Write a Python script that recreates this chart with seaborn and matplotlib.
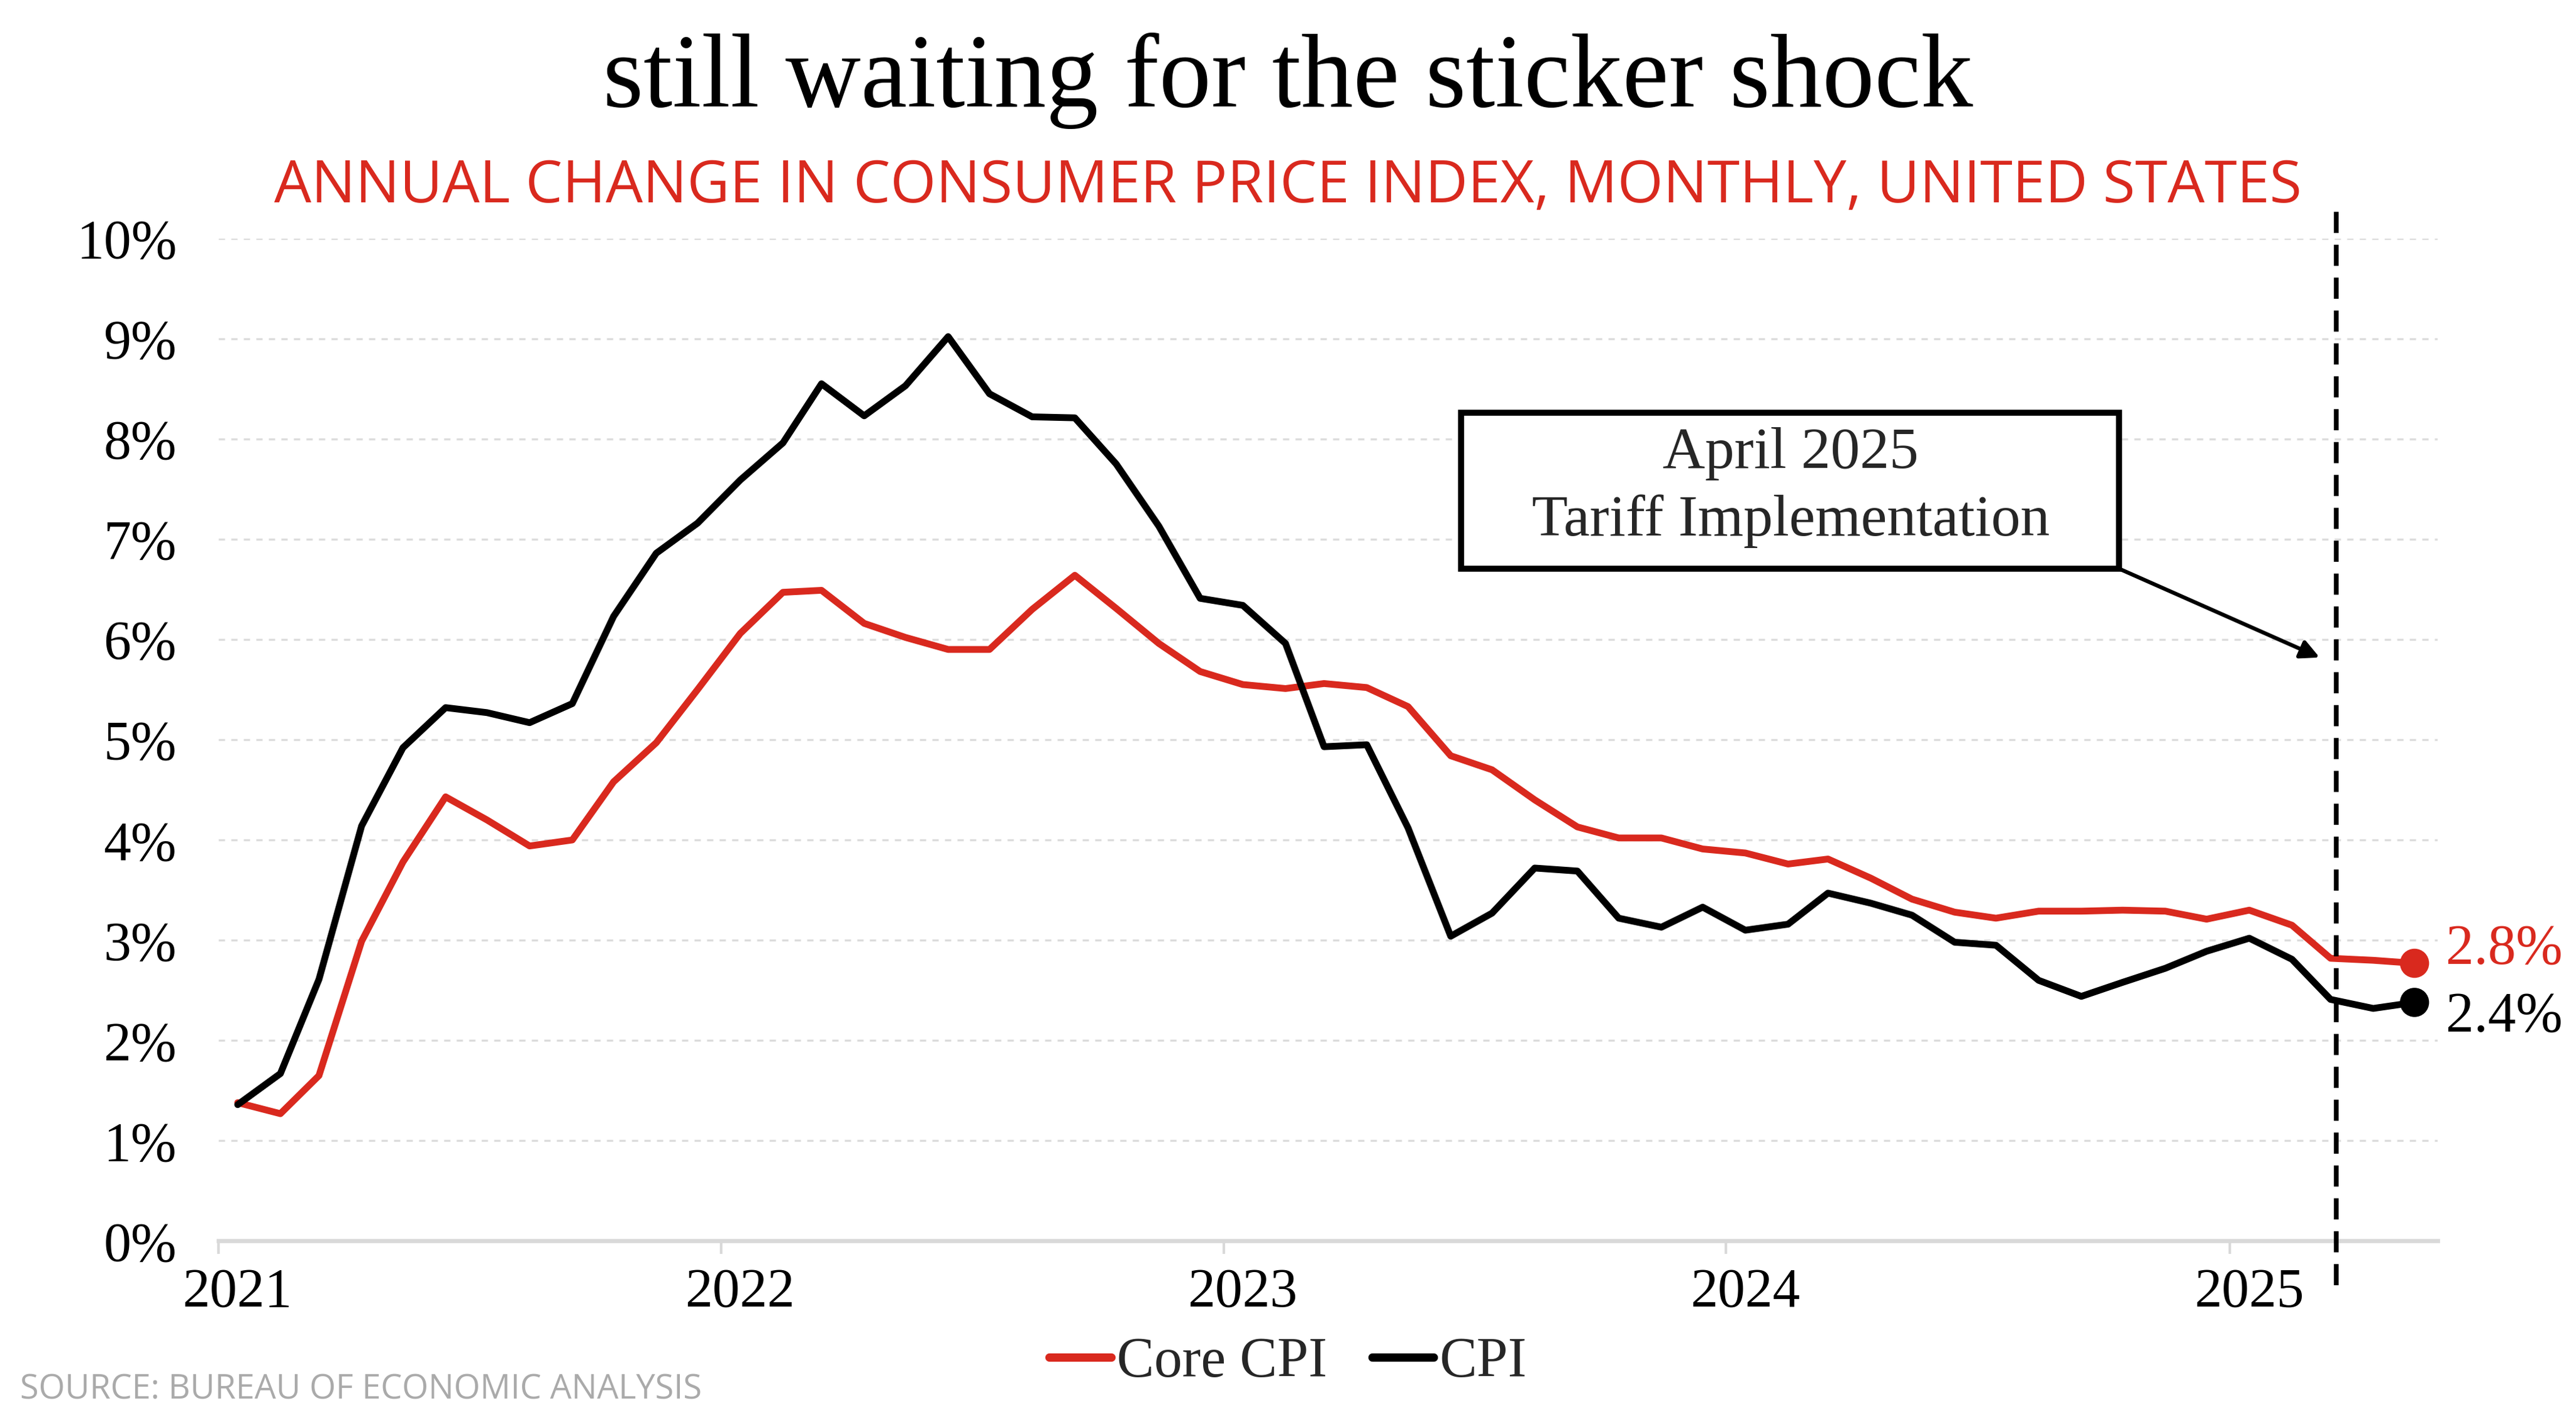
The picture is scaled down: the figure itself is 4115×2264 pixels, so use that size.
import pandas as pd
import matplotlib.pyplot as plt
import matplotlib.dates as mdates
from matplotlib.patches import Rectangle
from matplotlib.transforms import ScaledTranslation
import seaborn as sns

# monthly values, Jan 2021 - May 2025 (annual % change)
meses = pd.date_range('2021-01-01', '2025-05-01', freq='MS') + pd.Timedelta(days=14)

core_cpi = [
    1.38, 1.27, 1.65, 2.99, 3.78, 4.43, 4.20, 3.94, 4.00, 4.58, 4.97, 5.50,
    6.06, 6.47, 6.49, 6.16, 6.02, 5.90, 5.90, 6.30, 6.64, 6.31, 5.96, 5.68,
    5.55, 5.51, 5.56, 5.52, 5.33, 4.84, 4.70, 4.40, 4.13, 4.02, 4.02, 3.91,
    3.87, 3.76, 3.81, 3.62, 3.41, 3.28, 3.22, 3.29, 3.29, 3.30, 3.29, 3.21,
    3.30, 3.15, 2.82, 2.80, 2.77,
]
cpi = [
    1.36, 1.67, 2.61, 4.14, 4.92, 5.32, 5.27, 5.17, 5.36, 6.23, 6.86, 7.16,
    7.59, 7.96, 8.55, 8.23, 8.53, 9.02, 8.45, 8.22, 8.21, 7.75, 7.13, 6.41,
    6.34, 5.96, 4.93, 4.95, 4.12, 3.04, 3.27, 3.72, 3.69, 3.22, 3.13, 3.33,
    3.10, 3.16, 3.47, 3.37, 3.25, 2.98, 2.95, 2.60, 2.44, 2.58, 2.72, 2.89,
    3.02, 2.81, 2.41, 2.32, 2.38,
]
series = ['Core CPI', 'CPI']
cores = {'Core CPI': '#D9291E', 'CPI': '#000000'}
data_tarifa = pd.Timestamp('2025-03-19')

df = pd.DataFrame({'data': meses, 'Core CPI': core_cpi, 'CPI': cpi})
df_long = df.melt(id_vars='data', value_vars=series, var_name='serie', value_name='valor')

sns.set_theme(style='white')
plt.rcParams['font.family'] = ['Liberation Serif', 'DejaVu Serif']

fig = plt.figure(figsize=(4115 / 300, 2264 / 300), dpi=300)
ax = fig.add_axes([0.0848, 0.1248, 0.8616, 0.7071])

sns.lineplot(data=df_long, x='data', y='valor', hue='serie', hue_order=series,
             palette=cores, linewidth=2.6, ax=ax)

# end dots
ultimos = df_long[df_long['data'] == df_long['data'].max()]
sns.scatterplot(data=ultimos, x='data', y='valor', hue='serie', hue_order=series,
                palette=cores, s=125, linewidth=0, legend=False, zorder=5, ax=ax)

offsets = {'Core CPI': 5, 'CPI': -6}
for _, row in ultimos.iterrows():
    ax.annotate(f"{row['valor']:.1f}%", xy=(row['data'], row['valor']),
                xytext=(12, offsets[row['serie']]), textcoords='offset points',
                va='center', ha='left', fontsize=21.5, color=cores[row['serie']],
                annotation_clip=False)

# axes styling
ax.set_xlim(pd.Timestamp('2021-01-01'), pd.Timestamp('2025-06-01'))
ax.set_ylim(0, 10)
ax.set_yticks(range(0, 11))
ax.yaxis.set_major_formatter(plt.FuncFormatter(lambda v, p: f'{int(v)}%'))
ax.xaxis.set_major_locator(mdates.YearLocator())
ax.xaxis.set_major_formatter(mdates.DateFormatter('%Y'))
ax.set_xlabel('')
ax.set_ylabel('')
ax.tick_params(axis='y', length=0, pad=16, labelsize=21, labelcolor='black')
ax.tick_params(axis='x', length=5, width=1, color='#d9d9d9', pad=5,
               labelsize=21, labelcolor='black', bottom=True)
for lbl in ax.get_xticklabels():
    lbl.set_transform(lbl.get_transform() + ScaledTranslation(0.1, 0, fig.dpi_scale_trans))

ax.grid(axis='y', linestyle=(0, (3, 3)), color='#dcdcdc', linewidth=0.8)
ax.grid(axis='x', visible=False)
for s in ['top', 'right', 'left']:
    ax.spines[s].set_visible(False)
ax.spines['bottom'].set_color('#d9d9d9')
ax.spines['bottom'].set_linewidth(1.6)

# tariff line + annotation
ax.axvline(data_tarifa, ymin=-0.044, ymax=1.027, color='black', lw=1.8,
           linestyle=(0, (4.5, 2.5)), clip_on=False, zorder=6)
ax.add_patch(Rectangle((0.560, 0.6705), 0.2964, 0.1555, transform=ax.transAxes,
                       facecolor='white', edgecolor='black', lw=2.3, zorder=7))
ax.text(0.7084, 0.785, 'April 2025', transform=ax.transAxes, ha='center', va='center',
        fontsize=22.5, zorder=8)
ax.text(0.7084, 0.718, 'Tariff Implementation', transform=ax.transAxes, ha='center',
        va='center', fontsize=22.5, zorder=8)
ax.annotate('', xy=(0.9467, 0.582), xycoords='axes fraction',
            xytext=(0.8564, 0.6705), textcoords='axes fraction',
            arrowprops=dict(arrowstyle='-|>', color='black', lw=1.5,
                            mutation_scale=15, shrinkA=0, shrinkB=0))

# legend
handles, labels = ax.get_legend_handles_labels()
ax.legend_.remove()
leg = fig.legend(handles, labels, loc='center', bbox_to_anchor=(0.5, 0.039), ncol=2,
                 frameon=False, fontsize=21.5, handlelength=1.1, handletextpad=0.1,
                 columnspacing=0.8)
for linha in leg.get_lines():
    linha.set_linewidth(3.2)

# titles
fig.text(0.5, 0.9247, 'still waiting for the sticker shock', ha='center', va='baseline',
         fontsize=40, color='black')
fig.text(0.5, 0.8574, 'ANNUAL CHANGE IN CONSUMER PRICE INDEX, MONTHLY, UNITED STATES',
         ha='center', va='baseline', fontsize=22.5, color='#D9291E', weight='medium',
         family=['Open Sans', 'DejaVu Sans'])
fig.text(0.0077, 0.0136, 'SOURCE: BUREAU OF ECONOMIC ANALYSIS', ha='left', va='baseline',
         fontsize=13, color='#aaaaaa', family=['Open Sans', 'DejaVu Sans'])

plt.savefig('out.png', dpi=300)
plt.close()
